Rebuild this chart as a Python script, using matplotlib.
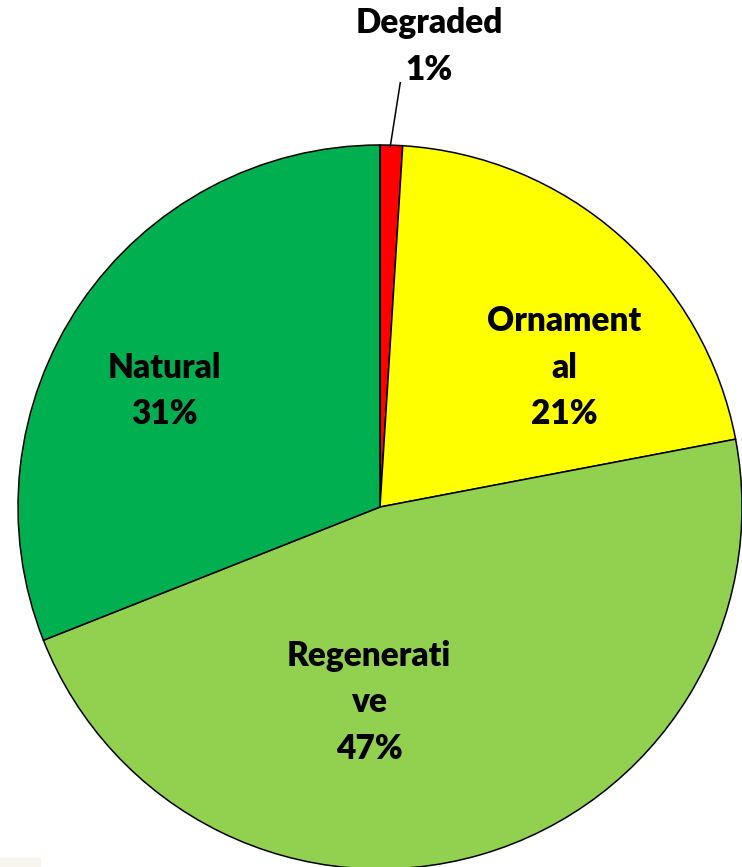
import matplotlib.pyplot as plt
from matplotlib.patches import Rectangle

# Data
categories = ['Degraded', 'Ornamental', 'Regenerative', 'Natural']
shares = [1, 21, 47, 31]
colors = ['#FF0000', '#FFFF00', '#92D050', '#00B050']
label_text = ['Degraded\n1%', 'Ornament\nal\n21%', 'Regenerati\nve\n47%', 'Natural\n31%']

# label positions (data coords, pie radius = 1)
label_pos = [(0.135, 1.272), (0.51, 0.385), (-0.03, -0.54), (-0.595, 0.32)]

plt.rcParams['font.family'] = ['Lato', 'DejaVu Sans']

fig = plt.figure(figsize=(7.42, 8.67), dpi=100)
ax = fig.add_axes([18 / 742, -2 / 867, 724 / 742, 724 / 867])

wedges, _ = ax.pie(shares, colors=colors, startangle=90, counterclock=False,
                   radius=1, wedgeprops=dict(edgecolor='black', linewidth=1.1))

for txt, (x, y) in zip(label_text, label_pos):
    ax.text(x, y, txt, ha='center', va='center', fontsize=24, fontweight='heavy',
            linespacing=1.55, color='black')

# leader line for the small slice
ax.plot([0.028, 0.056], [0.994, 1.172], color='black', linewidth=1.1, clip_on=False)

ax.set_xlim(-1, 1)
ax.set_ylim(-1, 1)
ax.set_aspect('equal')
ax.axis('off')

fig.patches.append(Rectangle((0, 0), 40 / 742, 9 / 867, transform=fig.transFigure,
                             color='#F8F5EE', zorder=-1))

plt.savefig('out.png', dpi=100)
